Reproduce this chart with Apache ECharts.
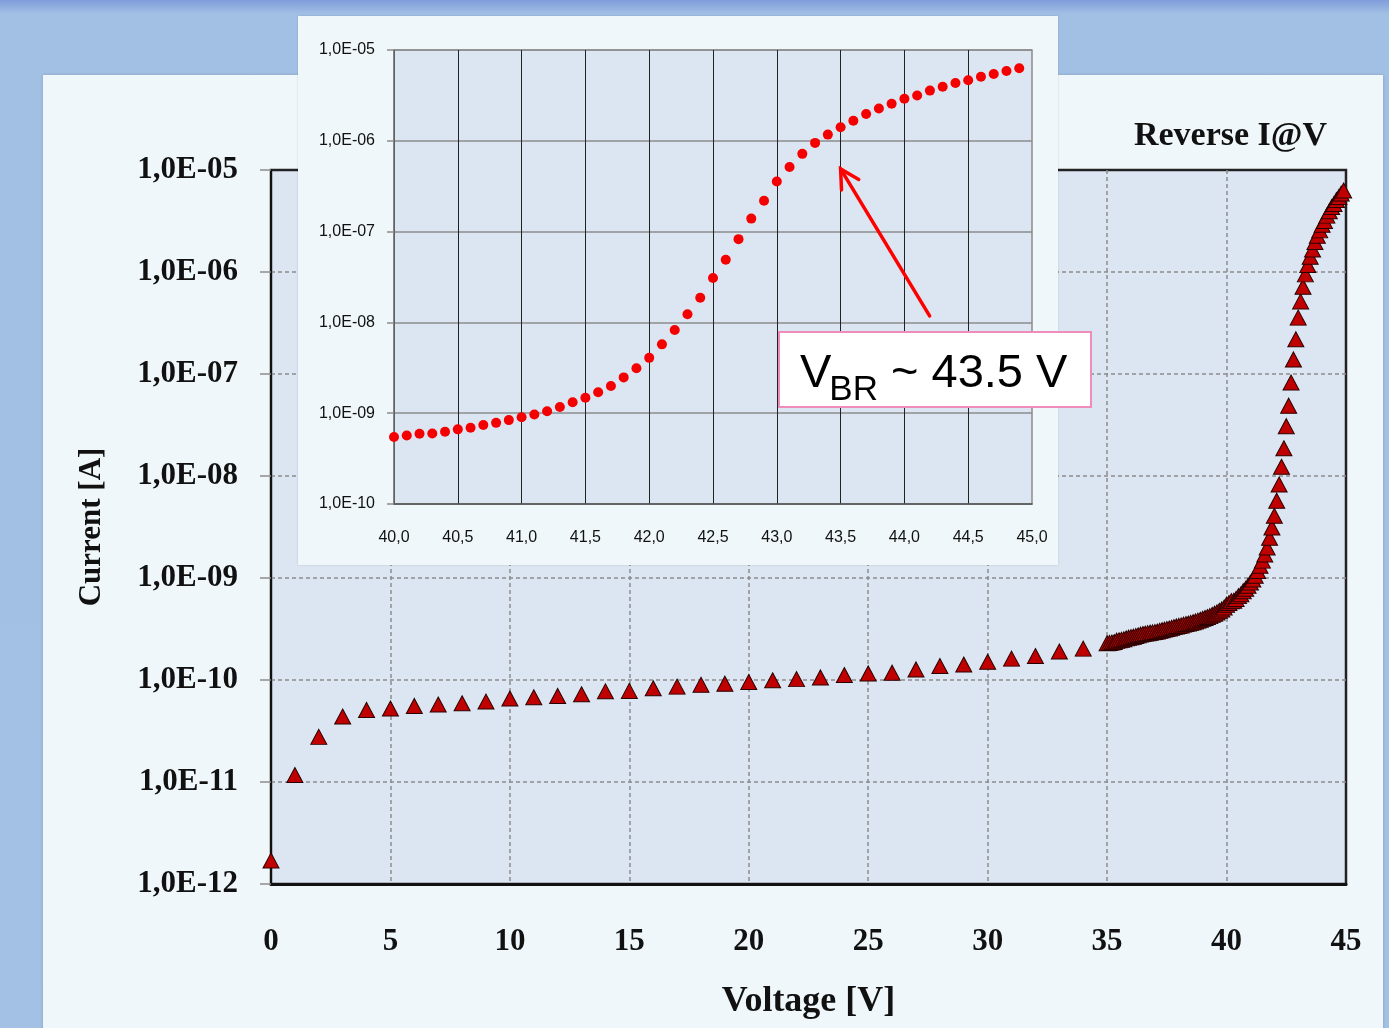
<!DOCTYPE html>
<html>
<head>
<meta charset="utf-8">
<title>Reverse I@V</title>
<script src="https://cdn.jsdelivr.net/npm/echarts@6/dist/echarts.min.js"></script>
<style>
  html, body { margin: 0; padding: 0; }
  body {
    width: 1389px; height: 1028px; overflow: hidden;
    background: linear-gradient(#7f9cdc 0px, #a2c0e4 14px, #a3c1e4 100%);
  }
  #chart { width: 1389px; height: 1028px; }
</style>
</head>
<body>
<div id="chart"></div>
<script>
// 0 - 34 V, 1 V steps
const lowVoltage = [0, 1, 2, 3, 4, 5, 6, 7, 8, 9, 10, 11, 12, 13, 14, 15, 16, 17,
  18, 19, 20, 21, 22, 23, 24, 25, 26, 27, 28, 29, 30, 31, 32, 33, 34];
const lowCurrent = [1.70e-12, 1.17e-11, 2.77e-11, 4.39e-11, 5.09e-11, 5.25e-11, 5.57e-11,
  5.74e-11, 5.92e-11, 6.14e-11, 6.58e-11, 6.78e-11, 6.98e-11, 7.24e-11, 7.74e-11, 7.82e-11,
  8.30e-11, 8.61e-11, 8.99e-11, 9.20e-11, 9.55e-11, 9.93e-11, 1.02e-10, 1.06e-10, 1.12e-10,
  1.16e-10, 1.18e-10, 1.27e-10, 1.37e-10, 1.42e-10, 1.51e-10, 1.62e-10, 1.72e-10, 1.90e-10,
  2.03e-10];

// 35.0 - 39.9 V, 0.1 V steps
const midVoltage = [35.0, 35.1, 35.2, 35.3, 35.4, 35.5, 35.6, 35.7, 35.8, 35.9,
  36.0, 36.1, 36.2, 36.3, 36.4, 36.5, 36.6, 36.7, 36.8, 36.9,
  37.0, 37.1, 37.2, 37.3, 37.4, 37.5, 37.6, 37.7, 37.8, 37.9,
  38.0, 38.1, 38.2, 38.3, 38.4, 38.5, 38.6, 38.7, 38.8, 38.9,
  39.0, 39.1, 39.2, 39.3, 39.4, 39.5, 39.6, 39.7, 39.8, 39.9];
const midCurrent = [2.29e-10, 2.31e-10, 2.33e-10, 2.36e-10, 2.43e-10, 2.45e-10, 2.48e-10, 2.51e-10, 2.56e-10, 2.60e-10,
  2.63e-10, 2.66e-10, 2.70e-10, 2.74e-10, 2.79e-10, 2.82e-10, 2.85e-10, 2.88e-10, 2.91e-10, 2.93e-10,
  2.95e-10, 2.99e-10, 3.04e-10, 3.08e-10, 3.12e-10, 3.16e-10, 3.20e-10, 3.25e-10, 3.30e-10, 3.35e-10,
  3.39e-10, 3.43e-10, 3.49e-10, 3.54e-10, 3.58e-10, 3.63e-10, 3.69e-10, 3.75e-10, 3.82e-10, 3.90e-10,
  3.98e-10, 4.06e-10, 4.14e-10, 4.23e-10, 4.35e-10, 4.47e-10, 4.60e-10, 4.76e-10, 4.92e-10, 5.13e-10];

// 40.0 - 44.9 V (breakdown region, also shown in the inset)
const bdVoltage = [40.0, 40.1, 40.2, 40.3, 40.4, 40.5, 40.6, 40.7, 40.8, 40.9,
  41.0, 41.1, 41.2, 41.3, 41.4, 41.5, 41.6, 41.7, 41.8, 41.9,
  42.0, 42.1, 42.2, 42.3, 42.4, 42.5, 42.6, 42.7, 42.8, 42.9,
  43.0, 43.1, 43.2, 43.3, 43.4, 43.5, 43.6, 43.7, 43.8, 43.9,
  44.0, 44.1, 44.2, 44.3, 44.4, 44.5, 44.6, 44.7, 44.8, 44.9];
const bdCurrent = [5.48e-10, 5.68e-10, 5.93e-10, 5.98e-10, 6.24e-10, 6.64e-10, 6.93e-10, 7.43e-10, 7.83e-10, 8.39e-10,
  9.02e-10, 9.66e-10, 1.05e-9, 1.17e-9, 1.32e-9, 1.48e-9, 1.70e-9, 1.99e-9, 2.48e-9, 3.13e-9,
  4.07e-9, 5.73e-9, 8.26e-9, 1.23e-8, 1.87e-8, 3.08e-8, 4.89e-8, 8.26e-8, 1.39e-7, 2.19e-7,
  3.57e-7, 5.15e-7, 7.18e-7, 9.48e-7, 1.17e-6, 1.41e-6, 1.66e-6, 1.97e-6, 2.27e-6, 2.56e-6,
  2.90e-6, 3.16e-6, 3.57e-6, 3.94e-6, 4.33e-6, 4.65e-6, 5.07e-6, 5.43e-6, 5.87e-6, 6.30e-6];

// where the red arrow points in the inset (V, A)
const arrowAt = [43.5, 4.9e-7];
const vbrLabel = ['V', 'BR', ' ~ 43.5 V'];

const serif = '"Liberation Serif", "DejaVu Serif", serif';
const sans = '"Liberation Sans", Arial, sans-serif';

const zip = (xs, ys) => xs.map((x, i) => [x, ys[i]]);
const mainData = zip(lowVoltage, lowCurrent)
  .concat(zip(midVoltage, midCurrent))
  .concat(zip(bdVoltage, bdCurrent));
const insetData = zip(bdVoltage, bdCurrent);

const expLabel = (v) => {
  const e = Math.round(Math.log10(v));
  return '1,0E' + (e < 0 ? '-' : '+') + String(Math.abs(e)).padStart(2, '0');
};

const myChart = echarts.init(document.getElementById('chart'));

// panels behind the two plots
const panels = [
  {
    type: 'rect', z: 0, silent: true,
    shape: { x: 43, y: 75, width: 1340, height: 990 },
    style: { fill: '#f0f7fa', shadowColor: 'rgba(0,0,40,0.18)', shadowBlur: 3 }
  },
  {
    type: 'rect', z: 10, silent: true,
    shape: { x: 298, y: 16, width: 760, height: 549 },
    style: { fill: '#f0f7fa', shadowColor: 'rgba(0,0,40,0.15)', shadowBlur: 2 }
  }
];

const option = {
  backgroundColor: 'transparent',
  animation: false,
  title: {
    text: 'Reverse I@V',
    right: 57,
    top: 114,
    z: 20,
    textStyle: { fontFamily: serif, fontWeight: 'bold', fontSize: 34, color: '#111' }
  },
  grid: [
    {
      left: 271, top: 170, width: 1075, height: 714,
      show: true, backgroundColor: '#dce6f2',
      borderColor: '#222', borderWidth: 2.5, z: 1
    },
    {
      left: 394, top: 50, width: 638, height: 454,
      show: true, backgroundColor: '#dce6f2',
      borderColor: '#8c8c8c', borderWidth: 1.5, z: 11
    }
  ],
  xAxis: [
    {
      gridIndex: 0, type: 'value', min: 0, max: 45, interval: 5, z: 2,
      name: 'Voltage [V]', nameLocation: 'middle', nameGap: 100,
      nameTextStyle: { fontFamily: serif, fontWeight: 'bold', fontSize: 36, color: '#111' },
      axisLine: { lineStyle: { color: '#111', width: 3 } },
      axisTick: { show: false },
      axisLabel: { margin: 42, fontFamily: serif, fontWeight: 'bold', fontSize: 31, color: '#111' },
      splitLine: { showMinLine: false, showMaxLine: false, lineStyle: { color: '#8c8c8c', width: 1.5, type: [4, 3] } }
    },
    {
      gridIndex: 1, type: 'value', min: 40, max: 45, interval: 0.5, z: 12,
      axisLine: { lineStyle: { color: '#555', width: 1.5 } },
      axisTick: { show: false },
      axisLabel: {
        margin: 26, fontFamily: sans, fontSize: 16, color: '#111',
        formatter: (v) => v.toFixed(1).replace('.', ',')
      },
      splitLine: { showMaxLine: false, lineStyle: { color: '#222', width: 1 } }
    }
  ],
  yAxis: [
    {
      gridIndex: 0, type: 'log', logBase: 10, min: 1e-12, max: 1e-5, splitNumber: 7, z: 2,
      name: 'Current [A]', nameLocation: 'middle', nameGap: 164,
      nameTextStyle: { fontFamily: serif, fontWeight: 'bold', fontSize: 31, color: '#111' },
      axisLine: { show: true, lineStyle: { color: '#111', width: 2 } },
      axisTick: { show: true, length: 11, lineStyle: { color: '#8c8c8c', width: 1.5 } },
      axisLabel: { margin: 33, fontFamily: serif, fontWeight: 'bold', fontSize: 31, color: '#111', formatter: expLabel },
      splitLine: { showMinLine: false, showMaxLine: false, lineStyle: { color: '#8c8c8c', width: 1.5, type: [4, 3] } }
    },
    {
      gridIndex: 1, type: 'log', logBase: 10, min: 1e-10, max: 1e-5, splitNumber: 5, z: 12,
      axisLine: { show: true, lineStyle: { color: '#777', width: 1.5 } },
      axisTick: { show: true, length: 7, lineStyle: { color: '#8c8c8c', width: 1.5 } },
      axisLabel: { margin: 19, fontFamily: sans, fontSize: 16, color: '#111', formatter: expLabel },
      splitLine: { lineStyle: { color: '#8c8c8c', width: 1.5 } }
    }
  ],
  series: [
    {
      type: 'scatter', xAxisIndex: 0, yAxisIndex: 0, z: 3,
      symbol: 'triangle', symbolSize: [16, 15],
      itemStyle: { color: '#c00000', borderColor: '#2a0000', borderWidth: 1, opacity: 1 },
      data: mainData
    },
    {
      type: 'scatter', xAxisIndex: 1, yAxisIndex: 1, z: 13,
      symbol: 'circle', symbolSize: 10,
      itemStyle: { color: '#f50000', opacity: 1 },
      data: insetData
    }
  ],
  graphic: panels
};

myChart.setOption(option);

// arrow and V_BR box, placed from the inset's scales
const tip = myChart.convertToPixel({ xAxisIndex: 1, yAxisIndex: 1 }, arrowAt);
const tail = [tip[0] + 89, tip[1] + 147];
const ang = Math.atan2(tail[1] - tip[1], tail[0] - tip[0]);
const arm = (da) => [tip[0] + 21 * Math.cos(ang + da), tip[1] + 21 * Math.sin(ang + da)];
const headA = arm(-0.5), headB = arm(0.5);

const measure = document.createElement('canvas').getContext('2d');
measure.font = '47px "Liberation Sans"';
const wV = measure.measureText(vbrLabel[0]).width;
measure.font = '35px "Liberation Sans"';
const wSub = measure.measureText(vbrLabel[1]).width;

const boxX = 779, boxY = 332;
const textX = boxX + 21;

myChart.setOption({
  graphic: panels.concat([
    {
      type: 'line', z: 20, silent: true,
      shape: { x1: tail[0], y1: tail[1], x2: tip[0], y2: tip[1] },
      style: { stroke: '#ff0000', lineWidth: 3.5, lineCap: 'round' }
    },
    {
      type: 'polyline', z: 20, silent: true,
      shape: { points: [headA, tip, headB] },
      style: { stroke: '#ff0000', lineWidth: 3.5, lineCap: 'round', lineJoin: 'miter', fill: null }
    },
    {
      type: 'rect', z: 20, silent: true,
      shape: { x: boxX, y: boxY, width: 312, height: 75 },
      style: { fill: '#ffffff', stroke: '#f08cbc', lineWidth: 2 }
    },
    {
      type: 'text', z: 21, silent: true,
      style: { x: textX, y: 374, text: vbrLabel[0], font: '47px "Liberation Sans"', fill: '#000', verticalAlign: 'middle' }
    },
    {
      type: 'text', z: 21, silent: true,
      style: { x: textX + wV - 2, y: 390, text: vbrLabel[1], font: '35px "Liberation Sans"', fill: '#000', verticalAlign: 'middle' }
    },
    {
      type: 'text', z: 21, silent: true,
      style: { x: textX + wV + wSub - 2, y: 374, text: vbrLabel[2], font: '47px "Liberation Sans"', fill: '#000', verticalAlign: 'middle' }
    }
  ])
}, { replaceMerge: ['graphic'] });
</script>
</body>
</html>
